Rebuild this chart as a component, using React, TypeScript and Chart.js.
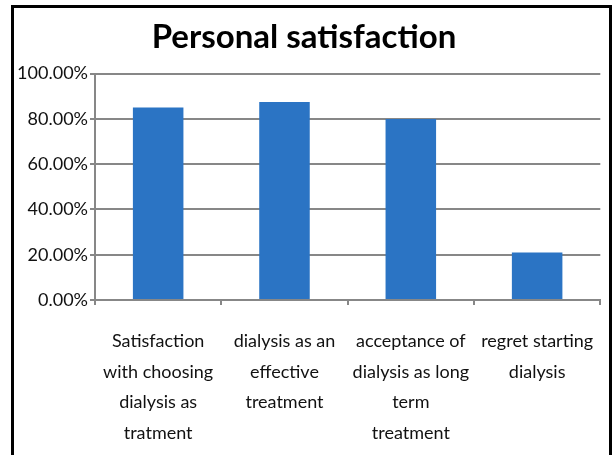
import React, { useEffect, useRef } from 'react';
import { Chart, registerables } from 'chart.js';

Chart.register(...registerables);

const titleText = 'Personal satisfaction';
const categories: string[][] = [
  ['Satisfaction', 'with choosing', 'dialysis as', 'tratment'],
  ['dialysis as an', 'effective', 'treatment'],
  ['acceptance of', 'dialysis as long', 'term', 'treatment'],
  ['regret starting', 'dialysis'],
];
const values: number[] = [85, 87.5, 80, 21];
const yMin = 0;
const yMax = 100;
const yStep = 20;

const FONT = 'Lato, "Open Sans", sans-serif';
const GRID = '#878787';
const BAR = '#2b74c4';

export default function App() {
  const ref = useRef<HTMLCanvasElement | null>(null);

  useEffect(() => {
    if (!ref.current) return;
    const chart = new Chart(ref.current, {
      type: 'bar',
      data: {
        labels: categories,
        datasets: [
          {
            data: values,
            backgroundColor: BAR,
            borderWidth: 0,
            categoryPercentage: 1,
            barPercentage: 0.4,
          },
        ],
      },
      options: {
        animation: false,
        responsive: true,
        maintainAspectRatio: false,
        layout: { padding: { left: 0, right: 7, top: 0, bottom: 0 } },
        plugins: {
          legend: { display: false },
          tooltip: { enabled: false },
          title: {
            display: true,
            text: titleText,
            color: '#000',
            font: { family: FONT, size: 33, weight: 'bold', lineHeight: 1.2 },
            padding: { top: 18, bottom: 16 },
          },
        },
        scales: {
          x: {
            grid: {
              display: true,
              drawOnChartArea: false,
              drawTicks: true,
              tickLength: 5,
              color: GRID,
              lineWidth: 2,
              offset: true,
            },
            border: { display: true, color: GRID, width: 2 },
            ticks: {
              color: '#111',
              font: { family: FONT, size: 18, lineHeight: 1.7 },
              padding: 21,
              maxRotation: 0,
              autoSkip: false,
            },
            afterFit: (scale: any) => {
              scale.height = 155;
            },
          },
          y: {
            min: yMin,
            max: yMax,
            grid: {
              color: GRID,
              lineWidth: 2,
              drawTicks: true,
              tickLength: 5,
            },
            border: { display: true, color: GRID, width: 2 },
            ticks: {
              stepSize: yStep,
              color: '#111',
              font: { family: FONT, size: 18 },
              padding: 2,
              callback: (v: any) => Number(v).toFixed(2) + '%',
            },
            afterFit: (scale: any) => {
              scale.width = 95;
            },
          },
        },
      },
    });
    return () => chart.destroy();
  }, []);

  return (
    <div style={{ position: 'fixed', left: 0, top: 0, width: 615, height: 455, background: '#fff', overflow: 'hidden' }}>
      <canvas ref={ref} style={{ position: 'absolute', left: 0, top: 0 }} />
      <div
        style={{
          position: 'absolute',
          left: 11,
          top: 5,
          width: 601,
          height: 470,
          boxSizing: 'border-box',
          border: '3px solid #000',
          borderBottom: 'none',
          pointerEvents: 'none',
        }}
      />
    </div>
  );
}
